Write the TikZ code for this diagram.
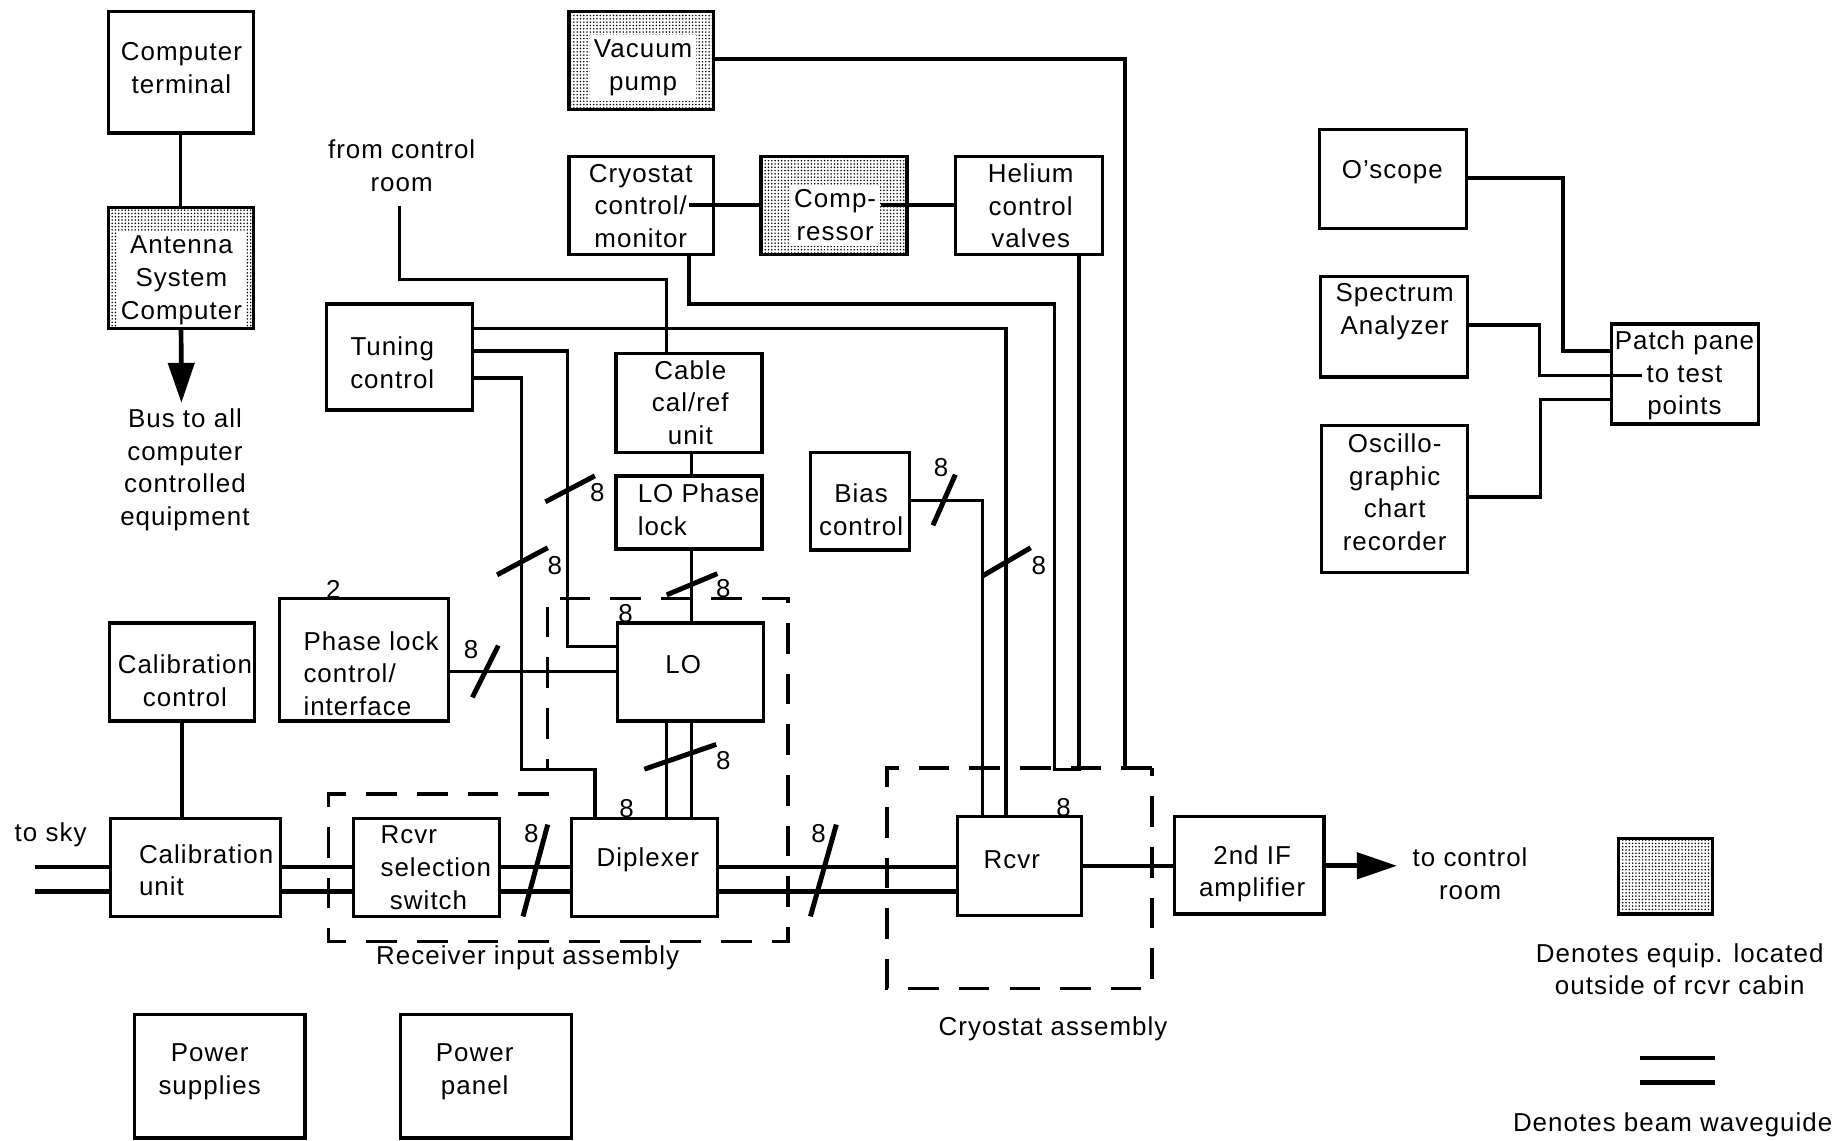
\documentclass[tikz,border=0pt]{standalone}
\usepackage{fontspec}
\setmainfont[LetterSpace=4]{Liberation Sans}
\usetikzlibrary{arrows.meta,patterns.meta,calc}
\tikzset{
  boxst/.style={draw=black,line width=1.4pt,inner sep=0pt,outer sep=0pt,line join=miter},
  shadest/.style={inner sep=0pt,outer sep=0pt,pattern={Dots[distance=1.4pt,radius=0.36pt]},pattern color=black},
  rim/.style={draw=black,line width=1.4pt,line join=miter},
  txt/.style={align=center,inner sep=0pt,yshift=-0.4pt,font=\fontsize{11}{13.9}\selectfont},
  ltxt/.style={txt,align=left},
  clear/.style={txt,fill=white,inner xsep=1.5pt,inner ysep=2pt},
  wire/.style={draw=black,line width=1.4pt,line join=miter},
  guide/.style={draw=black,line width=1.9pt},
  dashbox/.style={draw=black,line width=1.4pt,dash pattern=on 13pt off 8.5pt},
  slash/.style={draw=black,line width=2.1pt},
  num/.style={txt},
  bigtip/.style={-{Triangle[length=17pt,width=11pt]},draw=black,line width=2pt}
}
% name, left, top, right, bottom, style
\newcommand{\bx}[6]{\node[#6,minimum width={(#4-#2)*0.5pt},minimum height={(#5-#3)*0.5pt}] (#1) at ({(#2+#4)/2},{(#3+#5)/2}) {};}
\begin{document}
\begin{tikzpicture}[x=0.5pt,y=-0.5pt]
\useasboundingbox (0,0) rectangle (1568,968);
% boxes
\bx{term}{92}{10}{215}{113}{boxst}
\bx{asc}{92}{176}{215}{279}{shadest}
\bx{vac}{483}{10}{606}{93}{shadest}
\bx{cryo}{483}{133}{606}{216}{boxst}
\bx{comp}{646}{133}{770}{216}{shadest}
\bx{hel}{811}{133}{936}{216}{boxst}
\bx{osc}{1120}{110}{1245}{194}{boxst}
\bx{spec}{1121}{235}{1246}{320}{boxst}
\bx{rec}{1122}{361}{1246}{486}{boxst}
\bx{patch}{1368}{275}{1493}{360}{boxst}
\bx{tune}{277}{258}{401}{348}{boxst}
\bx{cable}{523}{300}{647}{384}{boxst}
\bx{lopl}{523}{404}{647}{466}{boxst}
\bx{bias}{688}{384}{772}{467}{boxst}
\bx{phase}{237}{508}{381}{612}{boxst}
\bx{lo}{524}{529}{648}{612}{boxst}
\bx{calc}{93}{529}{216}{612}{boxst}
\bx{calu}{94}{695}{238}{778}{boxst}
\bx{rsel}{300}{695}{424}{778}{boxst}
\bx{dip}{485}{695}{609}{778}{boxst}
\bx{rcvr}{813}{693}{918}{777}{boxst}
\bx{amp}{997}{693}{1124}{776}{boxst}
\bx{pws}{114}{861}{259}{966}{boxst}
\bx{pwp}{340}{861}{485}{966}{boxst}
\bx{legshade}{1374}{712}{1454}{776}{shadest}
% free-end coordinates
\coordinate (ctl) at (339,175);
\coordinate (skyA) at (30,736);
\coordinate (skyB) at (30,757);
\coordinate (ctlout) at (1186,735);
\coordinate (busout) at (154,342);
\coordinate (legAl) at (1392,898);
\coordinate (legAr) at (1456,898);
\coordinate (legBl) at (1392,919);
\coordinate (legBr) at (1456,919);
% dashed assemblies
\draw[dashbox] (466,674) -- (279,674) -- (279,799) -- (669,799) -- (669,508) -- (465,508) -- (465,652);
\draw[dashbox] (978,652) -- (753,652) -- (753,839) -- (978,839) -- cycle;
% connectors
\draw[wire] (term) -- (asc);
\draw[bigtip] (asc) -- (busout);
\draw[wire] (vac.east |- 0,50) -| (955,653);
\draw[wire] (585,174) -- (comp.west |- 0,174);
\draw[wire] (748,174) -- (hel.west |- 0,174);
\draw[wire] (cryo.south -| 585,0) |- (895,258) -- (895,653) -- (916,653) -- (hel.south -| 916,0);
\draw[wire] (tune.east |- 0,279) -| (rcvr.north -| 854,0);
\draw[wire] (tune.east |- 0,298) -| (482,549) -- (lo.west |- 0,549);
\draw[wire] (tune.east |- 0,321) -| (443,653) -| (dip.north -| 505,0);
\draw[wire] (ctl) |- (566,237) -- (cable.north -| 566,0);
\draw[wire] (cable.south -| 587,0) -- (lopl.north -| 587,0);
\draw[wire] (lopl.south -| 587,0) -- (lo.north -| 587,0);
\draw[wire] (phase.east |- 0,570) -- (lo.west |- 0,570);
\draw[wire] (calc) -- (calu.north -| calc);
\draw[wire] (lo.south -| 566,0) -- (dip.north -| 566,0);
\draw[wire] (lo.south -| 587,0) -- (dip.north -| 587,0);
\draw[wire] (bias.east |- 0,425) -| (rcvr.north -| 834,0);
\draw[guide] (skyA) -- (calu.west |- skyA);
\draw[guide] (skyB) -- (calu.west |- skyB);
\draw[guide] (calu.east |- skyA) -- (rsel.west |- skyA);
\draw[guide] (calu.east |- skyB) -- (rsel.west |- skyB);
\draw[guide] (rsel.east |- skyA) -- (dip.west |- skyA);
\draw[guide] (rsel.east |- skyB) -- (dip.west |- skyB);
\draw[guide] (dip.east |- skyA) -- (rcvr.west |- skyA);
\draw[guide] (dip.east |- skyB) -- (rcvr.west |- skyB);
\draw[guide] (rcvr.east |- 0,735) -- (amp.west |- 0,735);
\draw[bigtip] (amp.east |- ctlout) -- (ctlout);
\draw[wire] (osc.east |- 0,151) -| (1327,298) -- (patch.west |- 0,298);
\draw[wire] (spec.east |- 0,276) -| (1307,319) -- (1394,319);
\draw[wire] (rec.east |- 0,422) -| (1308,339) -- (patch.west |- 0,339);
\draw[guide] (legAl) -- (legAr);
\draw[guide] (legBl) -- (legBr);
% bus slashes
\draw[slash] (463,426) -- (505,404);
\draw[slash] (422,488) -- (465,465);
\draw[slash] (566,505) -- (609,487);
\draw[slash] (401,592) -- (423,548);
\draw[slash] (547,653) -- (608,632);
\draw[slash] (444,778) -- (465,700);
\draw[slash] (688,778) -- (710,700);
\draw[slash] (792,446) -- (811,403);
\draw[slash] (834,489) -- (875,465);
% bus counts
\node[num] (n1) at (507,417) {8};
\node[num] (n2) at (471,479) {8};
\node[num] (n3) at (614,499) {8};
\node[num] (n4) at (400,551) {8};
\node[num] (n5) at (614,645) {8};
\node[num] (n6) at (451,707) {8};
\node[num] (n7) at (695,707) {8};
\node[num] (n8) at (799,396) {8};
\node[num] (n9) at (882,479) {8};
\node[num] (n10) at (531,520) {8};
\node[num] (n11) at (532,686) {8};
\node[num] (n12) at (903,685) {8};
\node[num] (n13) at (283,500) {2};
% box texts
\node[txt] (t-term) at (154,57) {Computer\\terminal};
\node[clear] (t-asc) at (154,237) {Antenna\\System\\Computer};
\node[clear] (t-vac) at (546,57) {Vacuum\\pump};
\node[txt] (t-bus) at (157,398) {Bus to all\\computer\\controlled\\equipment};
\node[txt] (t-ctl) at (341,140) {from control\\room};
\node[txt] (t-cryo) at (544,174) {Cryostat\\control/\\monitor};
\node[clear] (t-comp) at (709,182) {Comp-\\ressor};
\node[txt] (t-hel) at (875,174) {Helium\\control\\valves};
\node[txt] (t-osc) at (1182,145) {O'scope};
\node[txt] (t-spec) at (1184,264) {Spectrum\\Analyzer};
\node[txt] (t-rec) at (1184,417) {Oscillo-\\graphic\\chart\\recorder};
\node[txt] (t-patch) at (1430,318) {Patch pane\\to test\\points};
\node[txt] (t-tune) at (333,307) {Tuning\\control};
\node[txt] (t-cable) at (586,341) {Cable\\cal/ref\\unit};
\node[ltxt] (t-lopl) at (593,432) {LO Phase\\lock};
\node[txt] (t-bias) at (731,432) {Bias\\control};
\node[ltxt] (t-phase) at (315,571) {Phase lock\\control/\\interface};
\node[txt] (t-lo) at (580,563) {LO};
\node[txt] (t-calc) at (157,577) {Calibration\\control};
\node[ltxt] (t-calu) at (175,738) {Calibration\\unit};
\node[ltxt] (t-rsel) at (370,736) {Rcvr\\selection\\\hspace*{4pt}switch};
\node[txt] (t-dip) at (550,729) {Diplexer};
\node[txt] (t-rcvr) at (859,729) {Rcvr};
\node[txt] (t-amp) at (1063,741) {2nd IF\\amplifier};
\node[txt] (t-sky) at (43,708) {to sky};
\node[txt] (t-out) at (1248,741) {to control\\room};
\node[txt] (t-ria) at (448,812) {Receiver input assembly};
\node[txt] (t-cra) at (894,873) {Cryostat assembly};
\node[txt] (t-pws) at (178,909) {Power\\supplies};
\node[txt] (t-pwp) at (403,909) {Power\\panel};
\node[txt] (t-leg1) at (1426,822) {Denotes equip. located\\outside of rcvr cabin};
\node[txt] (t-leg2) at (1420,954) {Denotes beam waveguide};
% outlines of the stippled boxes, drawn over the stipple
\draw[rim] (asc.north west) rectangle (asc.south east);
\draw[rim] (vac.north west) rectangle (vac.south east);
\draw[rim] (comp.north west) rectangle (comp.south east);
\draw[rim] (legshade.north west) rectangle (legshade.south east);
\end{tikzpicture}
\end{document}
